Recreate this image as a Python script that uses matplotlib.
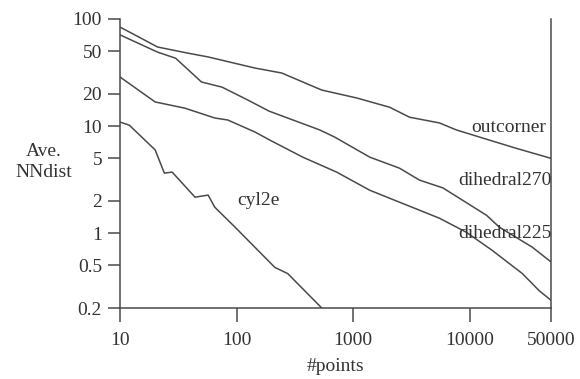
import matplotlib
matplotlib.use('Agg')
import matplotlib.pyplot as plt
from matplotlib.ticker import FixedLocator, NullLocator, FixedFormatter

plt.rcParams['font.family'] = ['Liberation Serif', 'DejaVu Serif']

# values (log-log)
outcorner_x = [10, 21, 38, 57, 144, 244, 538, 1074, 2060, 3055, 5520, 7720, 14800, 25200, 50000]
outcorner_y = [84, 54.7, 48, 44.2, 34.8, 31.3, 21.7, 18.3, 15, 12.1, 10.7, 9.2, 7.4, 6.2, 5.0]

d270_x = [10, 21, 30, 50, 75, 125, 190, 518, 695, 1208, 1390, 2500, 3720, 5900, 14000, 18000, 34600, 50000]
d270_y = [71, 49, 43, 25.8, 23.1, 17.5, 13.8, 9.2, 7.9, 5.6, 5.13, 4.05, 3.13, 2.65, 1.47, 1.14, 0.74, 0.54]

d225_x = [10, 20, 36, 65, 84, 144, 193, 370, 723, 1390, 2500, 3720, 5520, 9400, 15700, 28400, 39700, 50000]
d225_y = [28.7, 16.8, 14.7, 11.9, 11.4, 8.8, 7.4, 5.13, 3.72, 2.52, 1.95, 1.64, 1.38, 1.02, 0.69, 0.42, 0.29, 0.237]

cyl2e_x = [10, 12, 20, 24, 28, 44, 57, 65, 97, 213, 275, 540]
cyl2e_y = [10.9, 10.2, 6.0, 3.64, 3.72, 2.17, 2.27, 1.75, 1.14, 0.48, 0.42, 0.2]

xticks = [10, 100, 1000, 10000, 50000]
yticks = [0.2, 0.5, 1, 2, 5, 10, 20, 50, 100]
ytick_labels = ['0.2', '0.5', '1', '2', '5', '10', '20', '50', '100']

line_col = '#4a4a4a'
text_col = '#333333'

fig = plt.figure(figsize=(5.8, 3.79), dpi=100)
ax = fig.add_axes([0.207, 0.187, 0.743, 0.763])

for xs, ys in [(outcorner_x, outcorner_y), (d270_x, d270_y), (d225_x, d225_y), (cyl2e_x, cyl2e_y)]:
    ax.plot(xs, ys, color=line_col, lw=1.1)

ax.set_xscale('log')
ax.set_yscale('log')
ax.set_xlim(10, 50000)
ax.set_ylim(0.2, 100)

ax.xaxis.set_major_locator(FixedLocator(xticks))
ax.xaxis.set_major_formatter(FixedFormatter([str(t) for t in xticks]))
ax.xaxis.set_minor_locator(NullLocator())
ax.yaxis.set_major_locator(FixedLocator(yticks))
ax.yaxis.set_major_formatter(FixedFormatter(ytick_labels))
ax.yaxis.set_minor_locator(NullLocator())

ax.spines['top'].set_visible(False)
for s in ['left', 'bottom', 'right']:
    ax.spines[s].set_color(line_col)
    ax.spines[s].set_linewidth(1.1)

ax.tick_params(axis='y', direction='out', length=9, width=1.1, color=line_col,
               labelsize=14, labelcolor=text_col, pad=4, right=False)
ax.tick_params(axis='x', direction='out', length=10, width=1.1, color=line_col,
               labelsize=14, labelcolor=text_col, pad=7)

ax.set_xlabel('#points', fontsize=14, color=text_col, labelpad=7)
fig.text(0.075, 0.573, 'Ave.\nNNdist', fontsize=14, color=text_col,
         ha='center', va='center', linespacing=1.3)

# curve labels
ax.text(45600, 9.8, 'outcorner', fontsize=14, color=text_col, ha='right', va='center')
ax.text(51000, 3.13, 'dihedral270', fontsize=14, color=text_col, ha='right', va='center')
ax.text(51000, 1.0, 'dihedral225', fontsize=14, color=text_col, ha='right', va='center')
ax.text(155, 2.03, 'cyl2e', fontsize=14, color=text_col, ha='center', va='center')

fig.savefig('out.png', dpi=100)
